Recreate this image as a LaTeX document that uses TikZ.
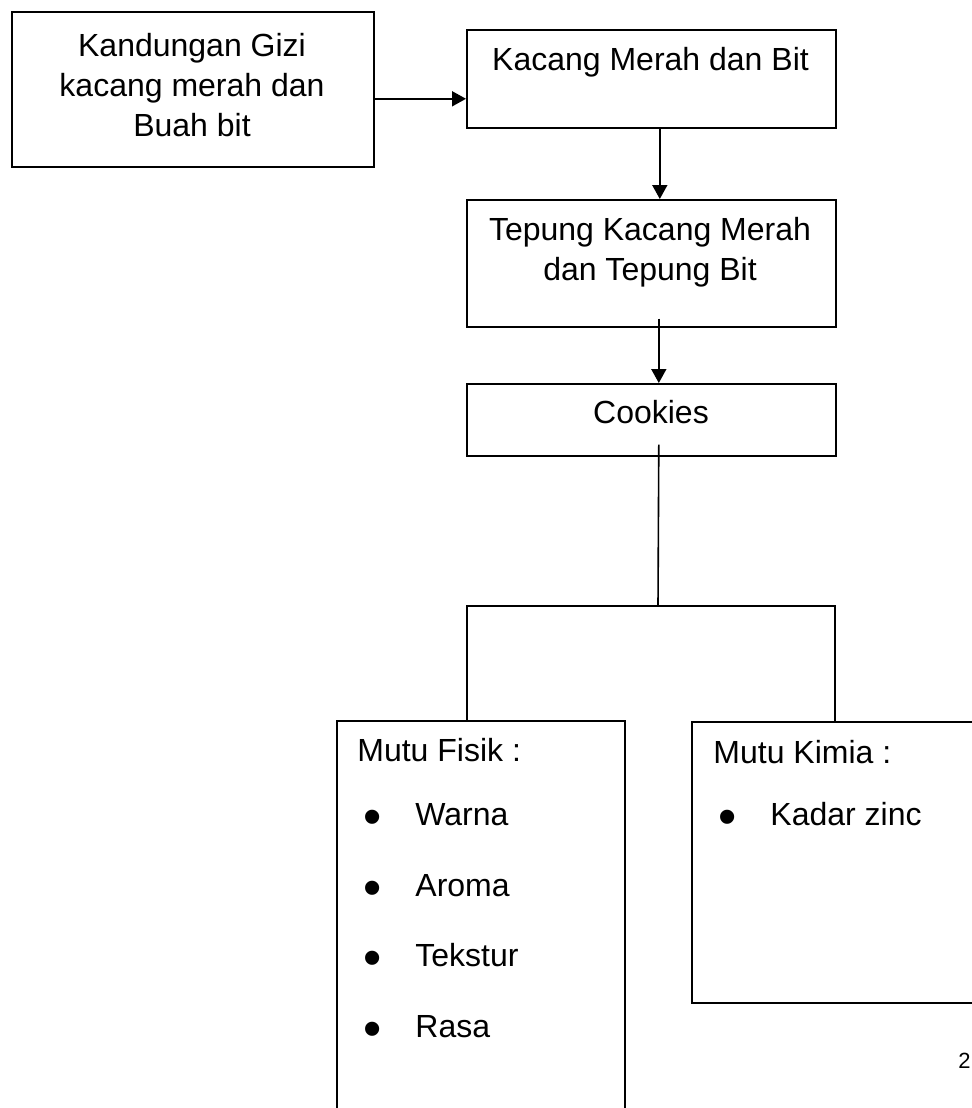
\documentclass[tikz,border=0pt]{standalone}
\usepackage{fontspec}
\setmainfont{Liberation Sans}
\usetikzlibrary{arrows.meta, positioning}

\begin{document}
\begin{tikzpicture}[
    x=0.5pt, y=-0.5pt,
    box/.style={rectangle, draw, line width=0.8pt, anchor=north west, inner sep=0pt},
    txt/.style={font=\fontsize{16}{20}\selectfont, align=center, inner sep=0pt},
    item/.style={font=\fontsize{16}{20}\selectfont, anchor=base west, inner sep=0pt},
    dot/.style={font=\fontsize{26}{26}\selectfont, anchor=base, inner sep=0pt},
    arrow/.style={-{Triangle[length=7pt, width=7.5pt]}, line width=0.9pt},
    link/.style={line width=0.8pt}
    ]
\useasboundingbox (0,0) rectangle (971,1108);

% Boxes
\node[box, minimum width=181pt, minimum height=77.5pt] (gizi) at (11,11) {};
\node[box, minimum width=184.5pt, minimum height=49pt] (kacang) at (466,29) {};
\node[box, minimum width=184.5pt, minimum height=63.5pt] (tepung) at (466,199) {};
\node[box, minimum width=184.5pt, minimum height=36pt] (cookies) at (466,383) {};
\node[box, minimum width=144pt, minimum height=200pt] (fisik) at (336,720) {};
\node[box, minimum width=150pt, minimum height=140.5pt] (kimia) at (691,721) {};

% Texts in the boxes
\node[txt, anchor=north] (gizi_txt) at (192,33) {Kandungan Gizi\\kacang merah dan\\Buah bit};
\node[txt, anchor=base] (kacang_txt) at (650.5,70) {Kacang Merah dan Bit};
\node[txt, anchor=north] (tepung_txt) at (650,217) {Tepung Kacang Merah\\dan Tepung Bit};
\node[txt, anchor=base] (cookies_txt) at (651,423) {Cookies};

% Mutu Fisik
\node[item] (fisik_title) at (357,761) {Mutu Fisik :};
\node[dot] (dot_warna) at (373,834) {•};
\node[item] (warna) at (415,825) {Warna};
\node[dot] (dot_aroma) at (373,905) {•};
\node[item] (aroma) at (415,896) {Aroma};
\node[dot] (dot_tekstur) at (373,975) {•};
\node[item] (tekstur) at (415,966) {Tekstur};
\node[dot] (dot_rasa) at (373,1046) {•};
\node[item] (rasa) at (415,1037) {Rasa};

% Mutu Kimia
\node[item] (kimia_title) at (713,763) {Mutu Kimia :};
\node[dot] (dot_zinc) at (728,834) {•};
\node[item] (zinc) at (770,825) {Kadar zinc};

% Page number
\node[anchor=base west, inner sep=0pt, font=\fontsize{11}{11}\selectfont] (page) at (958,1068) {2};

% Arrows
\draw[arrow] ([yshift=-4.75pt]gizi.east) -- ([yshift=-4.75pt]gizi.east -| kacang.west);
\draw[arrow] ([xshift=4.25pt]kacang.south) -- ([xshift=4.25pt]tepung.north);
\draw[arrow] ([xshift=3.75pt, yshift=4.5pt]tepung.south) -- ([xshift=3.75pt]cookies.north);

% Branch
\coordinate (fork) at (658,606);
\coordinate (forkL) at (467,606);
\coordinate (forkR) at (835,606);
\draw[link] ([xshift=3.75pt, yshift=6pt]cookies.south) -- (fork);
\draw[link] (forkL |- fisik.north) -- (forkL) -- (forkR) -- (forkR |- kimia.north);

\end{tikzpicture}
\end{document}
